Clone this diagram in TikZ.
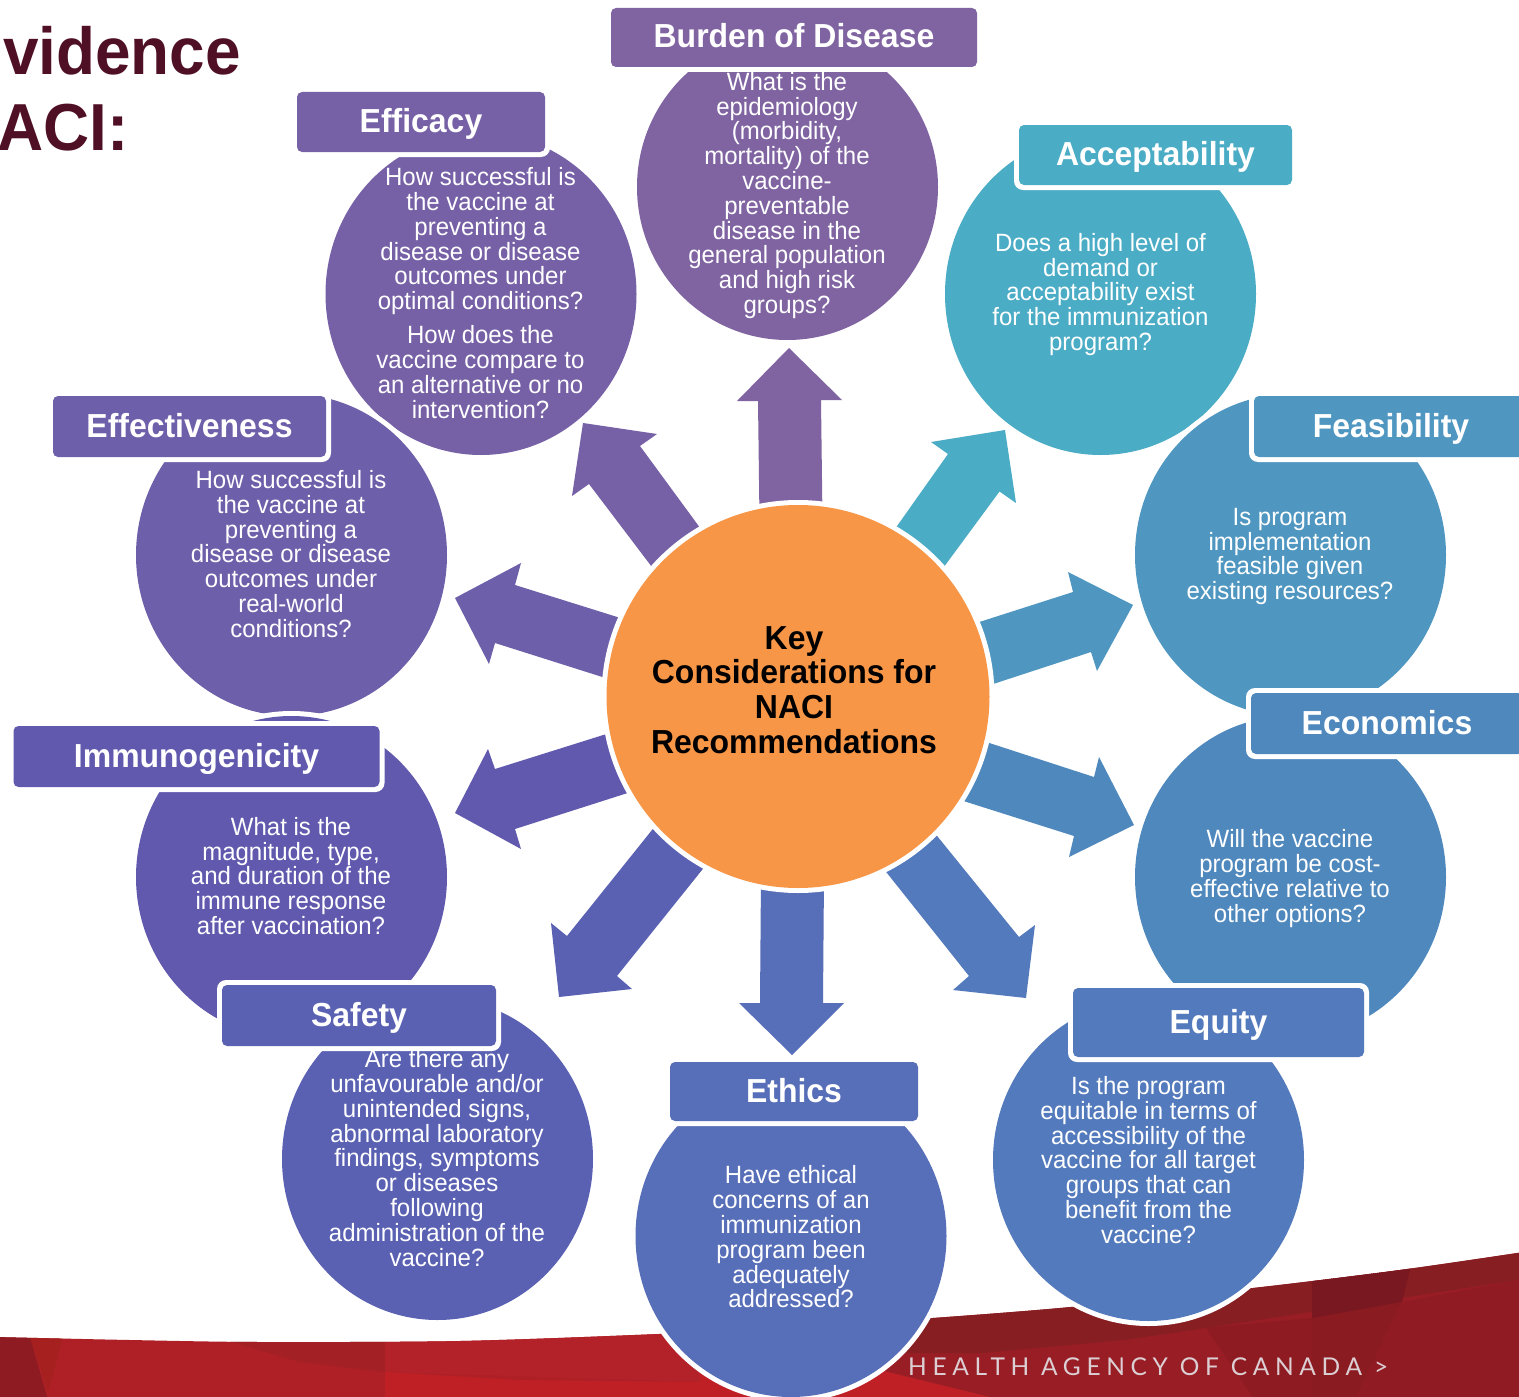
\documentclass[tikz,border=0pt]{standalone}
\usepackage{fontspec}
\setmainfont{Liberation Sans}[FakeStretch=0.96]
\newfontfamily\bandfont[LetterSpace=23]{Lato}
\definecolor{cBurden}{HTML}{8064A2}
\definecolor{cEfficacy}{HTML}{7660A6}
\definecolor{cEffect}{HTML}{6D5FA9}
\definecolor{cImmuno}{HTML}{6059AD}
\definecolor{cSafety}{HTML}{5A61B2}
\definecolor{cEthics}{HTML}{576EB8}
\definecolor{cEquity}{HTML}{537ABC}
\definecolor{cEcon}{HTML}{4F88BD}
\definecolor{cFeas}{HTML}{4F97C1}
\definecolor{cAccept}{HTML}{4BACC6}
\definecolor{cKey}{HTML}{F79646}
\definecolor{cTitle}{HTML}{4F0F24}
\definecolor{bBase}{HTML}{AE2026}
\definecolor{bEdge}{HTML}{8E1B21}
\definecolor{bEdgeB}{HTML}{A5201F}
\definecolor{bShade}{HTML}{A32024}
\definecolor{bMid}{HTML}{B22228}
\definecolor{bBright}{HTML}{BE2026}
\definecolor{bRight}{HTML}{981D25}
\definecolor{bDark}{HTML}{871E22}
\definecolor{bDarker}{HTML}{7A1821}
\definecolor{bStrip}{HTML}{8A1B21}
\definecolor{bEnd}{HTML}{911B23}
\definecolor{bFold}{HTML}{8F1B22}
\tikzset{
  bodytext/.style={text=white,align=center,inner sep=0pt,font=\fontsize{25}{24.8}\selectfont},
  tagbox/.style={rounded corners=5pt,inner sep=0pt,outer sep=0pt,text=white,
    font=\fontsize{33.3}{34}\selectfont\bfseries,text height=28pt,text depth=7pt},
  keytext/.style={text=black,align=center,inner sep=0pt,font=\fontsize{33.3}{34.7}\selectfont\bfseries},
  titletext/.style={text=cTitle,inner sep=0pt,font=\fontsize{66.5}{70}\selectfont\bfseries},
  bandtext/.style={text=white!80!cTitle,inner sep=0pt,font=\fontsize{24.5}{26}\bandfont}
}
% colour, cx, cy, rx, ry
\newcommand\Bubble[5]{%
  \fill[white] (#2,#3) ellipse [x radius=#4+5,y radius=#5+5];
  \fill[#1] (#2,#3) ellipse [x radius=#4,y radius=#5];}
% name, colour, x1, y1, x2, y2, text
\newcommand\Tag[7]{%
  \fill[white,rounded corners=9pt] ({#3-5},{#4-5}) rectangle ({#5+5},{#6+5});
  \node[tagbox,fill=#2,minimum width={(#5-#3)*1pt},minimum height={(#6-#4)*1pt}] (#1) at ({(#3+#5)/2},{(#4+#6)/2}) {#7};}
\begin{document}
\begin{tikzpicture}[x=1pt,y=-1pt]
\useasboundingbox (0,0) rectangle (1519,1397);
\clip (0,0) rectangle (1519,1397);
\fill[white] (0,0) rectangle (1519,1397);
% footer band
\begin{scope}
\clip plot[smooth] coordinates {(-5,1337) (130,1340) (260,1342) (460,1341) (659,1334) (800,1327) (933,1318) (1071,1307) (1253,1288) (1400,1270) (1524,1252)} -- (1524,1400) -- (-5,1400) -- cycle;
\fill[bBase] (-5,1230) rectangle (700,1400);
\fill[bEdge] (-5,1330) -- (28,1330) -- (48,1400) -- (-5,1400) -- cycle;
\fill[bEdgeB] (28,1330) -- (65,1330) -- (48,1392) -- cycle;
\fill[bShade] (190,1330) -- (385,1330) -- (385,1372) -- (300,1362) -- cycle;
\fill[bMid] (385,1330) -- (700,1320) -- (700,1382) -- (385,1372) -- cycle;
\fill[bBright] (385,1372) -- (520,1380) -- (700,1382) -- (700,1400) -- (385,1400) -- cycle;
\fill[bRight] (700,1230) rectangle (1524,1400);
\fill[bBright] (700,1370) -- (880,1370) -- (1002,1400) -- (700,1400) -- cycle;
\fill[bFold] (1206,1328) -- (1312,1318) -- (1312,1400) -- (1255,1400) -- cycle;
\fill[bStrip] (1312,1318) -- (1402,1302) -- (1355,1400) -- (1312,1400) -- cycle;
\fill[bEnd] (1402,1302) -- (1524,1279) -- (1524,1400) -- (1355,1400) -- cycle;
\fill[bDark] (900,1230) -- (1524,1230) -- (1524,1279) -- (1206,1328) -- (1124,1340) -- (982,1353) -- (900,1353) -- cycle;
\fill[bDarker] (1312,1270) -- (1414,1255) -- (1402,1302) -- (1312,1318) -- cycle;
\end{scope}
\node[bandtext,anchor=base west] (agency) at (908,1375) {HEALTH AGENCY OF CANADA >};
% title
\node[titletext,anchor=base west] (titleA) at (3,75) {vidence};
\node[titletext,anchor=base west] (titleB) at (-3,150) {ACI:};
% bubbles, top to bottom
\Bubble{cBurden}{787.5}{187}{150.5}{153}
\Tag{burdenT}{cBurden}{611}{8}{977}{67}{Burden of Disease}
\node[bodytext] (burdenB) at (787,195.5) {What is the\\epidemiology\\(morbidity,\\mortality) of the\\vaccine-\\preventable\\disease in the\\general population\\and high risk\\groups?};
\Bubble{cEfficacy}{481}{294}{155.5}{161}
\Tag{efficacyT}{cEfficacy}{297}{92}{545}{152}{Efficacy}
\node[bodytext] (efficacyB) at (480.5,293) {How successful is\\the vaccine at\\preventing a\\disease or disease\\outcomes under\\optimal conditions?\\[9.4pt]How does the\\vaccine compare to\\an alternative or no\\intervention?};
\Bubble{cAccept}{1100.5}{294}{155.5}{161}
\Tag{acceptT}{cAccept}{1019}{125}{1292}{185}{Acceptability}
\node[bodytext] (acceptB) at (1100.5,294.5) {Does a high level of\\demand or\\acceptability exist\\for the immunization\\program?};
\Bubble{cEffect}{291.5}{555}{155.5}{161}
\Tag{effectT}{cEffect}{53}{396}{326}{457}{Effectiveness}
\node[bodytext] (effectB) at (291,554) {How successful is\\the vaccine at\\preventing a\\disease or disease\\outcomes under\\real-world\\conditions?};
\Bubble{cFeas}{1290.5}{555}{155.5}{161}
\Tag{feasT}{cFeas}{1254}{396}{1528}{457}{Feasibility}
\node[bodytext] (feasB) at (1290,556.5) {Is program\\implementation\\feasible given\\existing resources?};
\Bubble{cImmuno}{291.5}{877}{155.5}{161}
\Tag{immunoT}{cImmuno}{13.5}{726}{379.5}{787}{Immunogenicity}
\node[bodytext] (immunoB) at (291,876) {What is the\\magnitude, type,\\and duration of the\\immune response\\after vaccination?};
\Bubble{cEcon}{1290.5}{877}{155.5}{161}
\Tag{econT}{cEcon}{1251}{693}{1523}{754}{Economics}
\node[bodytext] (econB) at (1290,878.5) {Will the vaccine\\program be cost-\\effective relative to\\other options?};
\Bubble{cSafety}{437.5}{1159}{155.5}{161}
\Tag{safetyT}{cSafety}{222}{985}{496}{1046}{Safety}
\node[bodytext] (safetyB) at (437,1158) {Are there any\\unfavourable and/or\\unintended signs,\\abnormal laboratory\\findings, symptoms\\or diseases\\following\\administration of the\\vaccine?};
\Bubble{cEquity}{1148.5}{1160}{155.5}{161}
\Tag{equityT}{cEquity}{1073}{988}{1364}{1057}{Equity}
\node[bodytext] (equityB) at (1148.5,1160) {Is the program\\equitable in terms of\\accessibility of the\\vaccine for all target\\groups that can\\benefit from the\\vaccine?};
\Bubble{cEthics}{791}{1236}{155.5}{161}
\Tag{ethicsT}{cEthics}{670}{1062}{918}{1121}{Ethics}
\node[bodytext] (ethicsB) at (791,1237) {Have ethical\\concerns of an\\immunization\\program been\\adequately\\addressed?};
% block arrows
\fill[cBurden] (789,348) -- (842,400) -- (821,400) -- (822.5,520) -- (759.5,520) -- (758,401) -- (737,401) -- cycle;
\fill[cEfficacy] (583,423) -- (657,434) -- (640,446) -- (706,536) -- (658,575) -- (589,484) -- (572,496) -- cycle;
\fill[cAccept] (1005,430) -- (1016,503) -- (999.5,491.5) -- (938,575) -- (890,536) -- (948,454) -- (931,442) -- cycle;
\fill[cFeas] (1133,605) -- (1097,671) -- (1091,652) -- (984,687) -- (970,625) -- (1073,592) -- (1068,572) -- cycle;
\fill[cEcon] (1134,825) -- (1069,857) -- (1074,836) -- (954,798) -- (977,739) -- (1094,777) -- (1099,757) -- cycle;
\fill[cEquity] (1026,998) -- (953,990) -- (969,976) -- (879,863) -- (929,826) -- (1019,937) -- (1035,925) -- cycle;
\fill[cEthics] (792,1055) -- (739,1003) -- (760,1003) -- (761,875) -- (824,875) -- (823,1003) -- (844,1003) -- cycle;
\fill[cSafety] (559,997) -- (551,923) -- (567,936) -- (660,820) -- (710,860) -- (617,976) -- (632,989) -- cycle;
\fill[cImmuno] (455,813) -- (488,749) -- (495,769) -- (616,731) -- (637,790) -- (515,829) -- (521,849) -- cycle;
\fill[cEffect] (455,598) -- (521,563) -- (515,585) -- (630,621) -- (615,681) -- (495,643) -- (489,664) -- cycle;
% centre
\Bubble{cKey}{798}{696.5}{191.5}{191.5}
\node[keytext] (keyT) at (794,690) {Key\\Considerations for\\NACI\\Recommendations};
\end{tikzpicture}
\end{document}
